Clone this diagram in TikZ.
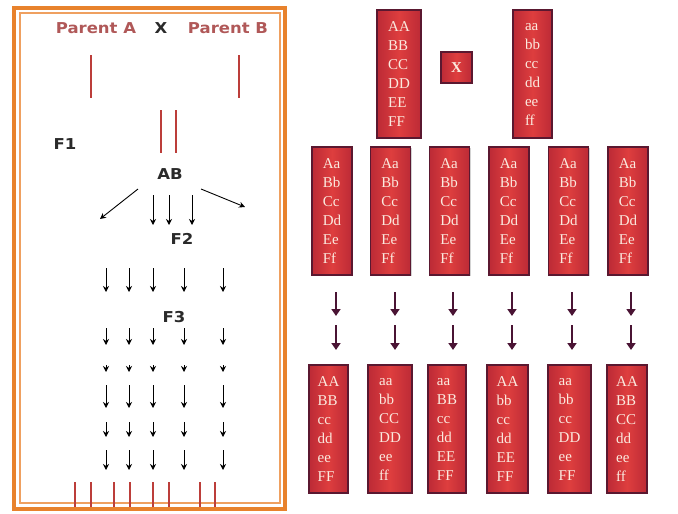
\documentclass[tikz,border=0pt]{standalone}
\usepackage{fontspec}
\setmainfont{Liberation Serif}
\newfontfamily\labelfont{DejaVu Sans}
\usetikzlibrary{arrows.meta,shadows}

\definecolor{frameor}{HTML}{E8822C}
\definecolor{frameinner}{HTML}{EFA060}
\definecolor{parentred}{HTML}{B05858}
\definecolor{labelgray}{HTML}{2A2A2A}
\definecolor{chromred}{HTML}{BC3E3A}
\definecolor{boxedge}{HTML}{5A1830}
\definecolor{boxlight}{HTML}{DE3E3E}
\definecolor{boxdark}{HTML}{BC2A36}
\definecolor{boxtext}{HTML}{FBEADF}
\definecolor{parrow}{HTML}{4A1434}

\begin{document}
\begin{tikzpicture}[x=1pt,y=-1pt,
  lbl/.style={font=\labelfont\bfseries\fontsize{15}{18}\selectfont, xscale=1.1,
              anchor=base, inner sep=0pt, text=labelgray},
  chrom/.style={draw=chromred, line width=2pt},
  larr/.style={draw=black, line width=0.9pt, -{Stealth[length=6pt,width=6pt]}},
  parr/.style={draw=parrow, line width=2.2pt, -{Triangle[length=7pt,width=9pt]}},
  gbox/.style={draw=boxedge, line width=1.6pt,
               left color=boxdark, right color=boxdark, middle color=boxlight,
               drop shadow={shadow xshift=1.3pt, shadow yshift=-1.3pt, opacity=0.35},
               text=boxtext, font=\fontsize{15}{19}\selectfont,
               align=left, inner sep=0pt, minimum height=128pt}
]
\useasboundingbox (0,0) rectangle (678,514);

% ---------- left panel: chromosome sketch ----------
\draw[frameor, line width=4pt] (14,8) rectangle (285,509);
\draw[frameinner, line width=1.2pt] (20,13) rectangle (280,503);

\node[lbl, text=parentred] (parA) at (96,33) {Parent A};
\node[lbl] (cross) at (161,33) {X};
\node[lbl, text=parentred] (parB) at (228,33) {Parent B};

% parental chromosomes
\coordinate (ca1) at (90.5,55);  \coordinate (ca2) at (90.5,98);
\coordinate (cb1) at (239,55);   \coordinate (cb2) at (239,98);
\draw[chrom] (ca1) -- (ca2);
\draw[chrom] (cb1) -- (cb2);

% F1 pair
\node[lbl] (f1) at (65,149) {F1};
\coordinate (h1a) at (161,110); \coordinate (h1b) at (161,153);
\coordinate (h2a) at (176,110); \coordinate (h2b) at (176,153);
\draw[chrom] (h1a) -- (h1b);
\draw[chrom] (h2a) -- (h2b);

\node[lbl] (ab) at (170,179) {AB};

% segregation arrows
\coordinate (dl1) at (138,189); \coordinate (dl2) at (100,219);
\coordinate (dr1) at (201,189); \coordinate (dr2) at (245,207);
\draw[larr] (dl1) -- (dl2);
\draw[larr] (dr1) -- (dr2);
\foreach \x [count=\i] in {153,169,192}{
  \coordinate (fa\i) at (\x,195);
  \coordinate (fb\i) at (\x,225);
  \draw[larr] (fa\i) -- (fb\i);
}
\node[lbl] (f2) at (182,244) {F2};
\node[lbl] (f3) at (174,322) {F3};

% arrow field of later generations
\foreach \ya/\yb [count=\r] in {268/292, 328/345, 365/372, 385/408, 422/437, 450/470}{
  \foreach \x [count=\c] in {106,129,153,184,223}{
    \coordinate (gs-\r-\c) at (\x,\ya);
    \coordinate (ge-\r-\c) at (\x,\yb);
    \draw[larr] (gs-\r-\c) -- (ge-\r-\c);
  }
}

% inbred lines at the bottom
\foreach \x [count=\i] in {75,91,114,130,153,169,200,215}{
  \coordinate (ba\i) at (\x,482);
  \coordinate (bb\i) at (\x,507);
  \draw[chrom] (ba\i) -- (bb\i);
}

% ---------- right panel: genotype boxes ----------
\node[gbox, minimum width=44pt] (pAA) at (399,74) {AA\\BB\\CC\\DD\\EE\\FF};
\node[gbox, minimum width=31pt, minimum height=31pt] (px) at (456.5,67.5) {\bfseries X};
\node[gbox, minimum width=39pt] (paa) at (532.5,74) {aa\\bb\\cc\\dd\\ee\\ff};

\foreach \x [count=\i] in {332,390.5,449.5,509,568.5,628}{
  \node[gbox, minimum width=40pt] (m\i) at (\x,211) {Aa\\Bb\\Cc\\Dd\\Ee\\Ff};
}

\foreach \x [count=\i] in {336,395,453,512,572,631}{
  \coordinate (ua\i) at (\x,292); \coordinate (ub\i) at (\x,316);
  \coordinate (va\i) at (\x,325); \coordinate (vb\i) at (\x,350);
  \draw[parr] (ua\i) -- (ub\i);
  \draw[parr] (va\i) -- (vb\i);
}

\node[gbox, minimum width=39pt] (r1) at (328.5,429) {AA\\BB\\cc\\dd\\ee\\FF};
\node[gbox, minimum width=44pt] (r2) at (390,429)   {aa\\bb\\CC\\DD\\ee\\ff};
\node[gbox, minimum width=38pt] (r3) at (447,429)   {aa\\BB\\cc\\dd\\EE\\FF};
\node[gbox, minimum width=41pt] (r4) at (507.5,429) {AA\\bb\\cc\\dd\\EE\\FF};
\node[gbox, minimum width=43pt] (r5) at (569.5,429) {aa\\bb\\cc\\DD\\ee\\FF};
\node[gbox, minimum width=40pt] (r6) at (627,429)   {AA\\BB\\CC\\dd\\ee\\ff};
\end{tikzpicture}
\end{document}
